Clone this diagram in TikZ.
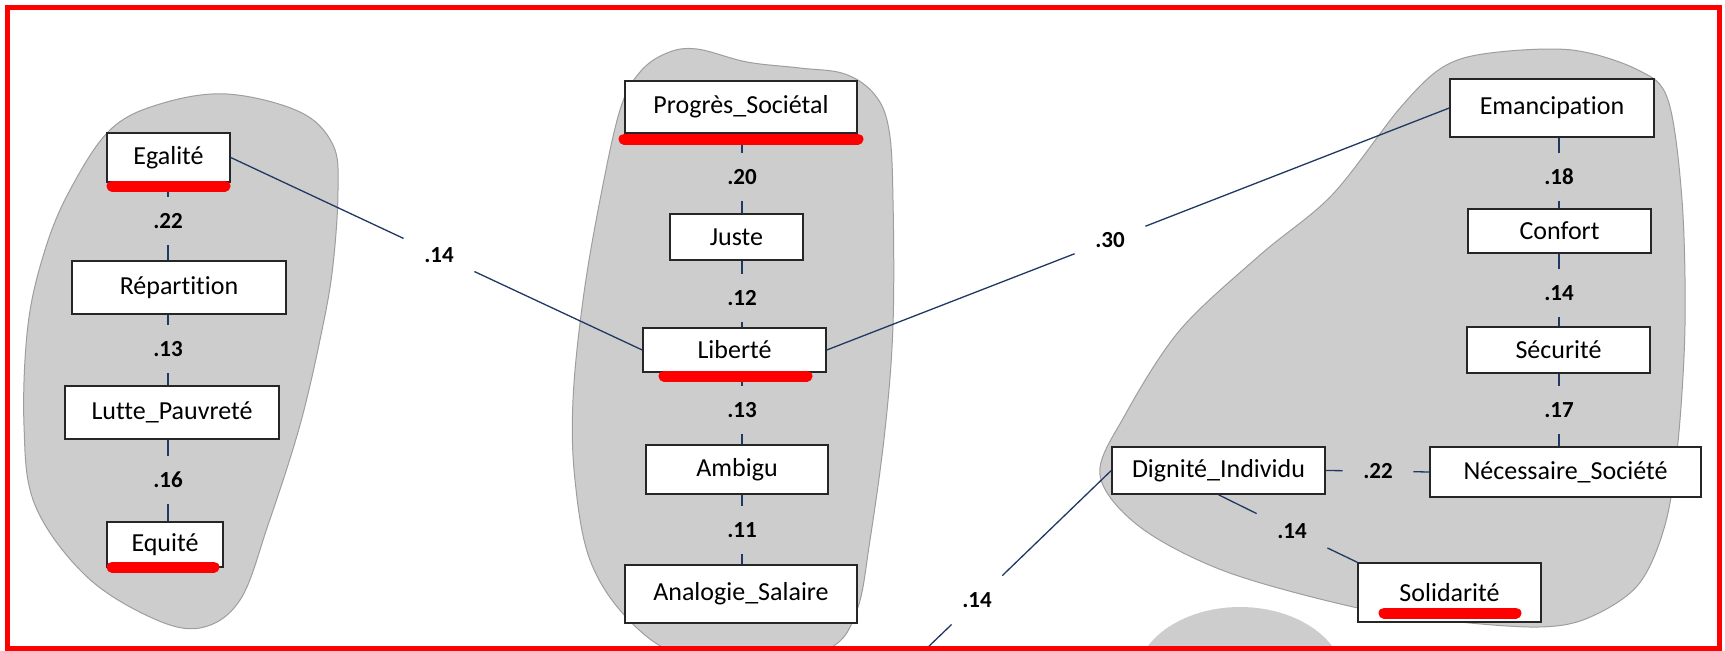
\documentclass[tikz,border=0pt]{standalone}
\usepackage{fontspec}
\setmainfont{Carlito}[Ligatures=NoCommon]
\usetikzlibrary{calc}
\definecolor{conncol}{RGB}{31,56,100}
\definecolor{blobfill}{RGB}{205,205,205}
\definecolor{blobedge}{RGB}{158,158,158}
\definecolor{framered}{RGB}{255,0,0}
\tikzset{
  box/.style={draw=black!85, line width=0.75pt, fill=white, inner sep=0pt,
              font=\fontsize{13pt}{15pt}\selectfont},
  lbl/.style={inner sep=0pt, minimum width=35pt, minimum height=24pt,
              font=\fontsize{11.5pt}{13pt}\selectfont\bfseries},
  conn/.style={draw=conncol, line width=0.65pt},
  blob/.style={fill=blobfill, draw=blobedge, line width=0.5pt},
  uline/.style={draw=framered, line width=5.5pt, line cap=round},
  frame/.style={draw=framered, line width=2.5pt},
}
\begin{document}
\begin{tikzpicture}[x=0.5pt,y=-0.5pt]
\useasboundingbox (0,0) rectangle (1725,650);
\fill[white] (0,0) rectangle (1725,650);

% ---- blobs ----
\begin{scope}
\clip (0,0) rectangle (1725,650);
\draw[blob] plot[smooth cycle, tension=0.6] coordinates {
  (227,94) (300,112) (333,145) (338,190) (333,265) (322,330) (300,425)
  (268,525) (240,600) (200,628) (150,617) (85,575) (35,505) (24,425)
  (28,325) (45,250) (70,190) (110,130) (160,104)};
\draw[blob] plot[smooth cycle, tension=0.6] coordinates {
  (620,110) (640,72) (667,53) (697,49) (747,62) (800,68) (845,74)
  (875,95) (889,130) (893,200) (893,325) (885,430) (870,540) (857,610)
  (830,648) (760,662) (680,655) (627,618) (590,560) (575,480) (573,400)
  (583,300) (600,200)};
\draw[blob] plot[smooth cycle, tension=0.55] coordinates {
  (1100,475) (1125,415) (1180,330) (1260,255) (1332,195) (1400,108)
  (1443,67) (1490,53) (1572,50) (1638,70) (1668,100) (1682,200)
  (1685,325) (1678,442) (1665,525) (1638,585) (1588,618) (1538,627)
  (1450,621) (1358,608) (1227,572) (1140,527)};
\fill[blobfill] (1240,682) ellipse [x radius=52.5pt, y radius=37.5pt];
\end{scope}

% ---- boxes ----
\node[box, minimum width=61.5pt, minimum height=24.5pt] (Egalite) at (168.5,157.5) {Egalité};
\node[box, minimum width=107pt, minimum height=26.5pt] (Repartition) at (179,287.5) {Répartition};
\node[box, minimum width=107pt, minimum height=26.5pt] (Lutte) at (172,412.5) {Lutte\_Pauvreté};
\node[box, minimum width=58pt, minimum height=22.5pt] (Equite) at (165,544.5) {Equité};

\node[box, minimum width=116pt, minimum height=26pt] (Progres) at (741,107) {Progrès\_Sociétal};
\node[box, minimum width=66.5pt, minimum height=23pt] (Juste) at (736.5,237) {Juste};
\node[box, minimum width=91.5pt, minimum height=22pt] (Liberte) at (734.5,350) {Liberté};
\node[box, minimum width=91pt, minimum height=24.5pt] (Ambigu) at (737,469.5) {Ambigu};
\node[box, minimum width=116pt, minimum height=29pt] (Analogie) at (741,594) {Analogie\_Salaire};

\node[box, minimum width=102pt, minimum height=29pt] (Emancipation) at (1552,108) {Emancipation};
\node[box, minimum width=91.5pt, minimum height=22pt] (Confort) at (1559.5,231) {Confort};
\node[box, minimum width=91.5pt, minimum height=23pt] (Securite) at (1558.5,350) {Sécurité};
\node[box, minimum width=135.5pt, minimum height=25pt] (Necessaire) at (1565.5,472) {Nécessaire\_Société};
\node[box, minimum width=106.5pt, minimum height=23.5pt] (Dignite) at (1218.5,470.5) {Dignité\_Individu};
\node[box, minimum width=91.5pt, minimum height=29.5pt] (Solidarite) at (1449.5,592.5) {Solidarité};

% ---- labels ----
\node[lbl] (a1) at (168,221) {.22};
\node[lbl] (a2) at (168,349) {.13};
\node[lbl] (a3) at (168,480) {.16};
\node[lbl] (b1) at (742,177) {.20};
\node[lbl] (b2) at (742,298) {.12};
\node[lbl] (b3) at (742,410) {.13};
\node[lbl] (b4) at (742,530) {.11};
\node[lbl] (c1) at (1559,177) {.18};
\node[lbl] (c2) at (1559,293) {.14};
\node[lbl] (c3) at (1559,410) {.17};
\node[lbl] (c4) at (1378,471) {.22};
\node[lbl] (c5) at (1292,531) {.14};
\node[lbl] (x1) at (439,255) {.14};
\node[lbl] (x2) at (1110,240) {.30};
\node[lbl] (x3) at (977,600) {.14};
\coordinate (off) at (873,700);

% ---- connectors ----
\draw[conn] (Egalite.south -| a1) -- (a1);
\draw[conn] (a1) -- (a1 |- Repartition.north);
\draw[conn] (Repartition.south -| a2) -- (a2);
\draw[conn] (a2) -- (a2 |- Lutte.north);
\draw[conn] (Lutte.south -| a3) -- (a3);
\draw[conn] (a3) -- (a3 |- Equite.north);

\draw[conn] (Progres.south -| b1) -- (b1);
\draw[conn] (b1) -- (b1 |- Juste.north);
\draw[conn] (Juste.south -| b2) -- (b2);
\draw[conn] (b2) -- (b2 |- Liberte.north);
\draw[conn] (Liberte.south -| b3) -- (b3);
\draw[conn] (b3) -- (b3 |- Ambigu.north);
\draw[conn] (Ambigu.south -| b4) -- (b4);
\draw[conn] (b4) -- (b4 |- Analogie.north);

\draw[conn] (Emancipation.south -| c1) -- (c1);
\draw[conn] (c1) -- (c1 |- Confort.north);
\draw[conn] (Confort.south -| c2) -- (c2);
\draw[conn] (c2) -- (c2 |- Securite.north);
\draw[conn] (Securite.south -| c3) -- (c3);
\draw[conn] (c3) -- (c3 |- Necessaire.north);
\draw[conn] (Dignite.east) -- (c4);
\draw[conn] (c4) -- (Necessaire.west);
\draw[conn] (Dignite.south) -- (c5);
\draw[conn] (c5) -- (Solidarite.north west);

\draw[conn] (Egalite.east) -- (x1);
\draw[conn] (x1) -- (Liberte.west);
\draw[conn] (Liberte.east) -- (x2);
\draw[conn] (x2) -- (Emancipation.west);
\begin{scope}
\clip (0,0) rectangle (1725,650);
\draw[conn] (Dignite.west) -- (x3);
\draw[conn] (x3) -- (off);
\end{scope}

% ---- red underlines ----
\draw[uline] (112,186) -- (225,186);
\draw[uline] (112,567) -- (214,567);
\draw[uline] (624,139) -- (858,139);
\draw[uline] (664,376) -- (807,376);
\draw[uline] (1384,613) -- (1516,613);

% ---- frame ----
\draw[frame] (7,7) rectangle (1719,648);
\end{tikzpicture}
\end{document}
